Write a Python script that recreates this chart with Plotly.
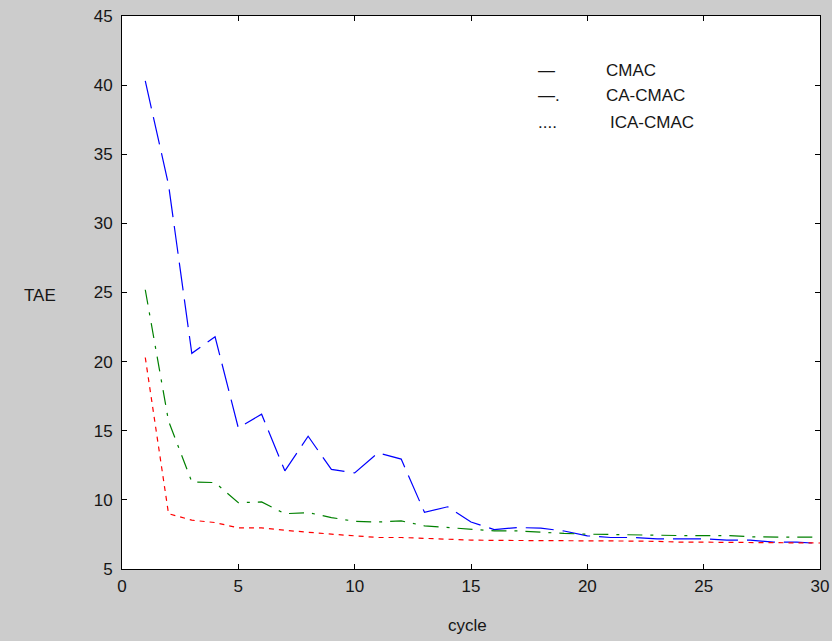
import plotly.graph_objects as go

cycles = list(range(1, 31))
cmac = [40.3, 32.8, 20.6, 21.8, 15.2, 16.2, 12.1, 14.6, 12.2, 11.95,
        13.4, 12.95, 9.1, 9.5, 8.4, 7.85, 8.0, 7.95, 7.75, 7.4,
        7.28, 7.28, 7.18, 7.18, 7.18, 7.09, 7.09, 6.94, 6.94, 6.85]
ca_cmac = [25.2, 15.7, 11.3, 11.25, 9.8, 9.85, 9.0, 9.08, 8.72, 8.45,
           8.4, 8.48, 8.12, 8.0, 7.85, 7.76, 7.76, 7.64, 7.57, 7.52,
           7.49, 7.49, 7.42, 7.42, 7.42, 7.42, 7.33, 7.3, 7.3, 7.3]
ica_cmac = [20.3, 9.0, 8.53, 8.36, 7.97, 7.97, 7.8, 7.64, 7.52, 7.4,
            7.28, 7.28, 7.21, 7.18, 7.09, 7.07, 7.07, 7.05, 7.05, 7.05,
            7.05, 7.02, 7.0, 6.94, 6.94, 6.92, 6.92, 6.9, 6.9, 6.88]
series_names = ["CMAC", "CA-CMAC", "ICA-CMAC"]
legend_marks = ["\u2014", "\u2014.", "...."]
x_ticks = [0, 5, 10, 15, 20, 25, 30]
y_ticks = [5, 10, 15, 20, 25, 30, 35, 40, 45]

FONT = "Liberation Sans, Arial, sans-serif"
TXT = "#161616"

fig = go.Figure()
fig.add_trace(go.Scatter(x=cycles, y=cmac, mode="lines", name=series_names[0],
                         line=dict(color="#0000ff", width=1.2, dash="28px,9px")))
fig.add_trace(go.Scatter(x=cycles, y=ca_cmac, mode="lines", name=series_names[1],
                         line=dict(color="#008000", width=1.2, dash="15px,8px,3px,8px")))
fig.add_trace(go.Scatter(x=cycles, y=ica_cmac, mode="lines", name=series_names[2],
                         line=dict(color="#ff0000", width=1.2, dash="5px,5px")))

axis_common = dict(
    showgrid=False, zeroline=False, showline=True, linecolor="black", linewidth=1,
    mirror="ticks", ticks="inside", ticklen=5, tickcolor="black", tickwidth=1,
    tickfont=dict(family=FONT, size=17, color=TXT), automargin=False,
)
fig.update_xaxes(range=[0, 30], tickvals=x_ticks, ticktext=[str(v) for v in x_ticks],
                 ticklabelstandoff=2, **axis_common)
fig.update_yaxes(range=[5, 45], tickvals=y_ticks, ticktext=[str(v) for v in y_ticks],
                 ticklabelstandoff=5, **axis_common)

annotations = [
    dict(text="TAE", x=-0.1175, y=0.494, xref="paper", yref="paper", showarrow=False,
         font=dict(family=FONT, size=17, color=TXT), xanchor="center", yanchor="middle"),
    dict(text="cycle", x=0.4957, y=-0.103, xref="paper", yref="paper", showarrow=False,
         font=dict(family=FONT, size=17, color=TXT), xanchor="center", yanchor="middle"),
]
leg_y = [0.902, 0.857, 0.808]
leg_x_text = [0.6905, 0.6905, 0.6963]
for i in range(3):
    annotations.append(dict(text=legend_marks[i], x=0.593, y=leg_y[i], xref="paper", yref="paper",
                            showarrow=False, xanchor="left", yanchor="middle",
                            font=dict(family=FONT, size=17, color=TXT)))
    annotations.append(dict(text=series_names[i], x=leg_x_text[i], y=leg_y[i], xref="paper", yref="paper",
                            showarrow=False, xanchor="left", yanchor="middle",
                            font=dict(family=FONT, size=17, color=TXT)))

fig.update_layout(
    width=832, height=641,
    margin=dict(l=122, r=12, t=16, b=72, pad=0, autoexpand=False),
    paper_bgcolor="#cccccc", plot_bgcolor="white",
    showlegend=False,
    annotations=annotations,
)
fig.write_html("out.html", config={"displayModeBar": False},
               post_script="document.body.style.margin='0';document.body.style.overflow='hidden';document.body.style.background='#cccccc';")
